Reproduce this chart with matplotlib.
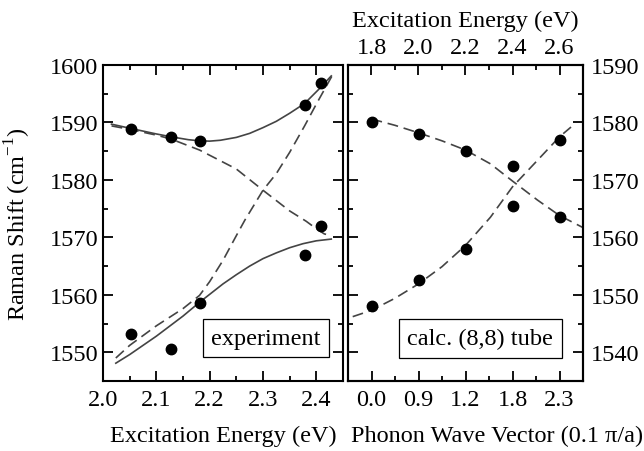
import numpy as np
import matplotlib
matplotlib.use('Agg')
from matplotlib import pyplot as plt
from matplotlib.ticker import MultipleLocator

plt.rcParams['font.family'] = ['Liberation Serif', 'DejaVu Serif']
plt.rcParams['mathtext.fontset'] = 'custom'
plt.rcParams['mathtext.rm'] = 'Liberation Serif'

# ---- experiment (left panel) ----
exp_hi_x = [2.053, 2.128, 2.181, 2.379, 2.408]
exp_hi_y = [1588.9, 1587.5, 1586.7, 1593.0, 1596.9]
exp_lo_x = [2.053, 2.128, 2.181, 2.379, 2.408]
exp_lo_y = [1553.1, 1550.6, 1558.6, 1566.9, 1572.0]

# fitted (solid) curves
fit_hi_x = [2.016, 2.05, 2.1, 2.128, 2.16, 2.181, 2.2, 2.22, 2.25, 2.275, 2.3, 2.325,
            2.35, 2.378, 2.406, 2.428]
fit_hi_y = [1589.7, 1589.0, 1588.0, 1587.5, 1587.0, 1586.8, 1586.75, 1586.9, 1587.4,
            1588.1, 1589.1, 1590.2, 1591.6, 1593.3, 1595.9, 1598.1]
fit_lo_x = [2.024, 2.05, 2.1, 2.15, 2.181, 2.225, 2.25, 2.275, 2.3, 2.325, 2.35, 2.375,
            2.4, 2.428]
fit_lo_y = [1548.1, 1549.6, 1552.8, 1556.3, 1558.7, 1561.9, 1563.5, 1565.0, 1566.3,
            1567.3, 1568.2, 1568.9, 1569.4, 1569.7]

# uncoupled (dashed) curves
unc_dn_x = [2.016, 2.05, 2.1, 2.128, 2.181, 2.25, 2.3, 2.35, 2.381, 2.4, 2.415, 2.428]
unc_dn_y = [1589.4, 1588.8, 1587.8, 1587.1, 1585.2, 1581.9, 1578.2, 1574.6, 1572.8,
            1571.5, 1570.6, 1570.3]
unc_up_x = [2.024, 2.05, 2.1, 2.15, 2.181, 2.2, 2.225, 2.25, 2.266, 2.3, 2.325, 2.35,
            2.378, 2.4, 2.43]
unc_up_y = [1549.0, 1551.2, 1554.6, 1557.6, 1559.9, 1562.3, 1566.0, 1570.3, 1573.0,
            1578.2, 1581.1, 1584.8, 1589.4, 1593.2, 1598.2]

# ---- calculation (right panel), x = excitation energy ----
calc_x = [1.8, 2.0, 2.2, 2.4, 2.6]
calc_hi_y = [1580.0, 1578.0, 1575.0, 1572.4, 1563.5]
calc_lo_y = [1548.0, 1552.5, 1557.9, 1565.5, 1577.0]
q_labels = ['0.0', '0.9', '1.2', '1.8', '2.3']
energy_labels = ['1.8', '2.0', '2.2', '2.4', '2.6']

calc_dn_x = [1.8, 1.9, 2.0, 2.1, 2.2, 2.306, 2.4, 2.506, 2.6, 2.7]
calc_dn_y = [1580.6, 1579.5, 1578.2, 1576.8, 1575.2, 1572.8, 1569.8, 1566.5, 1563.8, 1561.7]
calc_up_x = [1.72, 1.8, 1.9, 2.0, 2.1, 2.2, 2.306, 2.4, 2.506, 2.6, 2.649]
calc_up_y = [1546.2, 1547.3, 1549.4, 1551.9, 1554.9, 1558.6, 1563.5, 1568.8, 1573.4,
             1577.5, 1579.2]

line_c = '#444444'
dash = (0, (6.5, 3.5))
fs = 17.5

fig = plt.figure(figsize=(6.44, 4.52), dpi=100)
ax1 = fig.add_axes([103/644, 70/452, 240/644, 316/452])
ax2 = fig.add_axes([348/644, 70/452, 235/644, 316/452])

for ax in (ax1, ax2):
    for s in ax.spines.values():
        s.set_linewidth(1.5)
    ax.tick_params(which='both', direction='in', width=1.3, labelsize=fs,
                   top=True, right=True)
    ax.tick_params(which='major', length=7)
    ax.tick_params(which='minor', length=3.5)
    ax.tick_params(axis='x', pad=6)

# left panel
ax1.plot(fit_hi_x, fit_hi_y, '-', color=line_c, lw=1.2)
ax1.plot(fit_lo_x, fit_lo_y, '-', color=line_c, lw=1.2)
ax1.plot(unc_dn_x, unc_dn_y, linestyle=dash, color=line_c, lw=1.2)
ax1.plot(unc_up_x, unc_up_y, linestyle=dash, color=line_c, lw=1.2)
ax1.plot(exp_hi_x, exp_hi_y, 'o', color='black', ms=7.5)
ax1.plot(exp_lo_x, exp_lo_y, 'o', color='black', ms=7.5)
ax1.set_xlim(2.0, 2.45)
ax1.set_ylim(1545, 1600)
ax1.xaxis.set_minor_locator(MultipleLocator(0.05))
ax1.yaxis.set_major_locator(MultipleLocator(10))
ax1.yaxis.set_minor_locator(MultipleLocator(5))
ax1.set_xticks([2.0, 2.1, 2.2, 2.3, 2.4])
ax1.set_xticklabels(['2.0', '2.1', '2.2', '2.3', '2.4'])
ax1.set_ylabel('Raman Shift (cm$^{-1}$)', fontsize=fs)
ax1.yaxis.set_label_coords(-0.29, 0.5)
ax1.text(0.68, 0.135, 'experiment', transform=ax1.transAxes, fontsize=fs,
         ha='center', va='center',
         bbox=dict(boxstyle='square,pad=0.35', fc='white', ec='black', lw=0.9))

# right panel
ax2.plot(calc_dn_x, calc_dn_y, linestyle=dash, color=line_c, lw=1.2)
ax2.plot(calc_up_x, calc_up_y, linestyle=dash, color=line_c, lw=1.2)
ax2.plot(calc_x, calc_hi_y, 'o', color='black', ms=7.5)
ax2.plot(calc_x, calc_lo_y, 'o', color='black', ms=7.5)
ax2.set_xlim(1.7, 2.7)
ax2.set_ylim(1535, 1590)
ax2.set_xticks(calc_x)
ax2.set_xticklabels(q_labels)
ax2.xaxis.set_minor_locator(MultipleLocator(0.1))
ax2.yaxis.set_major_locator(MultipleLocator(10))
ax2.yaxis.set_minor_locator(MultipleLocator(5))
ax2.tick_params(axis='y', labelleft=False, labelright=True, pad=6)
ax2.tick_params(axis='x', top=False, which='both')
ax2.text(0.562, 0.1345, 'calc. (8,8) tube', transform=ax2.transAxes, fontsize=fs,
         ha='center', va='center',
         bbox=dict(boxstyle='square,pad=0.35', fc='white', ec='black', lw=0.9))

top = ax2.twiny()
top.set_xlim(ax2.get_xlim())
top.set_xticks(calc_x)
top.set_xticklabels(energy_labels)
top.xaxis.set_minor_locator(MultipleLocator(0.1))
top.tick_params(which='both', direction='in', width=1.3, labelsize=fs, pad=5)
top.tick_params(which='major', length=7)
top.tick_params(which='minor', length=3.5)
for s in top.spines.values():
    s.set_linewidth(1.5)
top.set_xlabel('Excitation Energy (eV)', fontsize=fs, labelpad=8)

fig.text(223/644, 1 - 436/452, 'Excitation Energy (eV)', fontsize=fs,
         ha='center', va='center')
fig.text(497/644, 1 - 436/452, 'Phonon Wave Vector (0.1 \u03c0/a)', fontsize=fs,
         ha='center', va='center')

fig.savefig('out.png', dpi=100)
